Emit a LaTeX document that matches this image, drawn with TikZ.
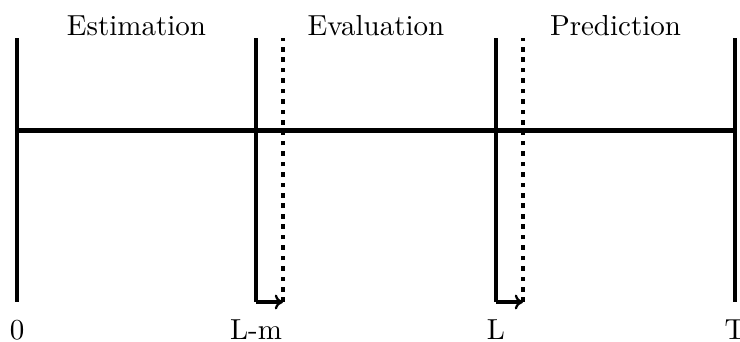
\documentclass[tikz,border=0pt]{standalone}
\usetikzlibrary{positioning, arrows.meta}
\tikzset{
	axisline/.style={line width=1.6pt, draw=black},
	lagline/.style={line width=1.6pt, dotted},
	shiftarr/.style={-{To[length=1mm, width=1.8mm, line width=0.8pt]}, line width=1.6pt},
	ticklabel/.style={anchor=base, inner sep=0pt, font=\normalsize},
	phaselabel/.style={anchor=base, inner sep=0pt, font=\normalsize}
}
\begin{document}
\begin{tikzpicture}[x=0.345pt, y=0.345pt]
	\useasboundingbox (0,0) rectangle (740,341);
	% tick ends
	\coordinate (zeroTop) at (17,303);
	\coordinate (zeroBot) at (17,39);
	\coordinate (lmTop) at (256,303);
	\coordinate (lmBot) at (256,39);
	\coordinate (lmDotTop) at (283,303);
	\coordinate (lmDotBot) at (283,39);
	\coordinate (lTop) at (496,303);
	\coordinate (lBot) at (496,39);
	\coordinate (lDotTop) at (523,303);
	\coordinate (lDotBot) at (523,39);
	\coordinate (tTop) at (735,303);
	\coordinate (tBot) at (735,39);
	\coordinate (axisStart) at (17,210.5);
	\coordinate (axisEnd) at (735,210.5);
	% time axis
	\draw[axisline] (axisStart) -- (axisEnd);
	\draw[axisline] (zeroTop) -- (zeroBot);
	\draw[axisline] (tTop) -- (tBot);
	\draw[axisline] (lmTop) -- (lmBot);
	\draw[axisline] (lTop) -- (lBot);
	\draw[shiftarr] (lmBot) -- (lmDotBot);
	\draw[shiftarr] (lBot) -- (lDotBot);
	\draw[lagline] (lmDotBot) -- (lmDotTop);
	\draw[lagline] (lDotBot) -- (lDotTop);
	% labels
	\node[ticklabel] (zeroLab) at (17,2) {0};
	\node[ticklabel] (lmLab) at (256,2) {L-m};
	\node[ticklabel] (lLab) at (496,2) {L};
	\node[ticklabel] (tLab) at (735,2) {T};
	\node[phaselabel] (estLab) at (136.5,306) {Estimation};
	\node[phaselabel] (evalLab) at (376,306) {Evaluation};
	\node[phaselabel] (predLab) at (615.5,306) {Prediction};
\end{tikzpicture}
\end{document}
